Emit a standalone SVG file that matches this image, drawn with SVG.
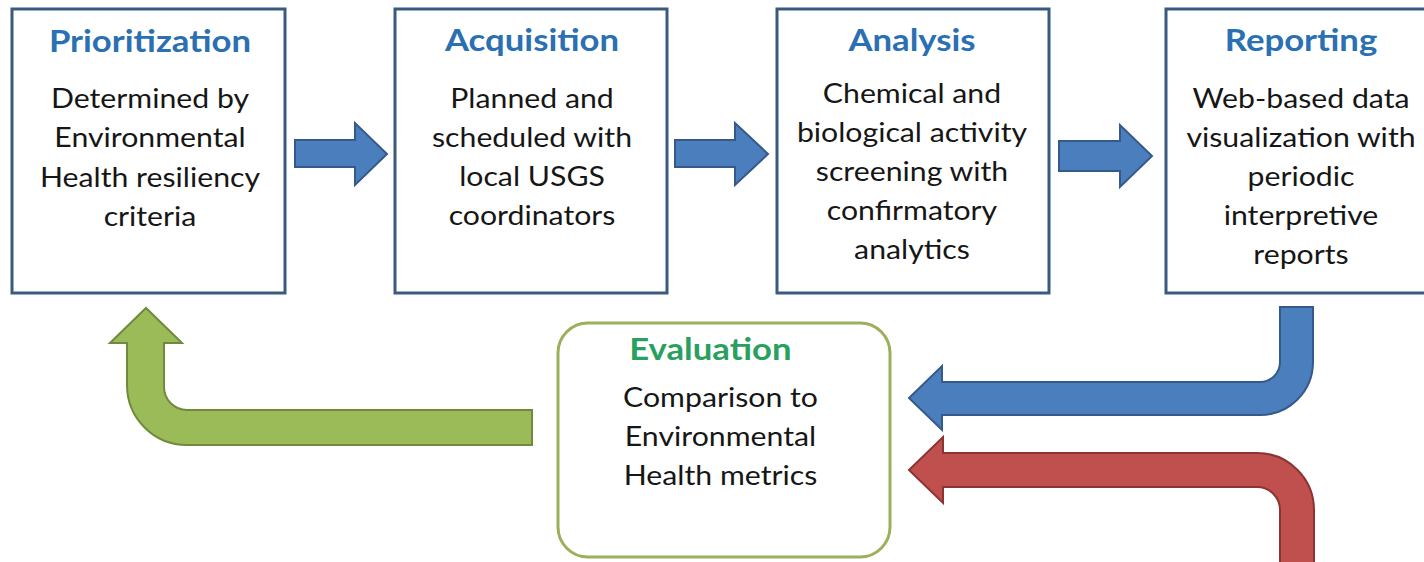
<svg xmlns="http://www.w3.org/2000/svg" width="1424" height="562" viewBox="0 0 1424 562">
  <style>
    .box { fill: #ffffff; stroke: #3b5a80; stroke-width: 3; }
    .evalbox { fill: #ffffff; stroke: #9bb05a; stroke-width: 3; }
    .title { font-family: Lato, "Liberation Sans", sans-serif; font-weight: bold; font-size: 31px; fill: #2a70b2; text-anchor: middle; }
    .etitle { font-family: Lato, "Liberation Sans", sans-serif; font-weight: bold; font-size: 31px; fill: #2aa060; text-anchor: middle; }
    .body { font-family: Lato, "Liberation Sans", sans-serif; font-size: 27px; fill: #161616; text-anchor: middle; }
    .blue { fill: #4a7ebd; stroke: #35598a; stroke-width: 2; stroke-linejoin: miter; }
    .green { fill: #9bbb59; stroke: #6f8a3c; stroke-width: 2; }
    .red { fill: #c0504d; stroke: #8a3533; stroke-width: 2; }
  </style>
  <rect width="1424" height="562" fill="#ffffff"/>

  <!-- flow connectors -->
  <g id="connectors">
    <path class="blue" d="M295,140 L355,140 L355,123 L387,154 L355,185 L355,167 L295,167 Z"/>
    <path class="blue" d="M675,140 L735,140 L735,123 L768,154 L735,185 L735,167 L675,167 Z"/>
    <path class="blue" d="M1059,141 L1120,141 L1120,125 L1152,156 L1120,187 L1120,171 L1059,171 Z"/>
    <!-- Reporting back to Evaluation -->
    <path class="blue" d="M1280,307 L1313,307 L1313,362 A53,53 0 0 1 1260,415 L942,415 L942,430 L909,398 L942,366 L942,382 L1260,382 A20,20 0 0 0 1280,362 Z"/>
    <!-- incoming from below -->
    <path class="red" d="M1280,566 L1280,510 A23,23 0 0 0 1257,487 L943,487 L943,503 L909,470 L943,437 L943,453 L1257,453 A57,57 0 0 1 1314,510 L1314,566 Z"/>
    <!-- Evaluation back to Prioritization -->
    <path class="green" d="M532,410 L187,410 A23,23 0 0 1 164,387 L164,343 L182,343 L146,308 L110,343 L127,343 L127,385 A60,60 0 0 0 187,445 L532,445 Z"/>
  </g>

  <g id="prioritization">
    <rect class="box" x="12" y="9" width="273" height="284"/>
    <g transform="translate(150 0) scale(1.12 1)">
      <text class="title" x="0" y="52">Prioritization</text>
      <text class="body" x="0" y="108">Determined by</text>
      <text class="body" x="0" y="147">Environmental</text>
      <text class="body" x="0" y="187">Health resiliency</text>
      <text class="body" x="0" y="226">criteria</text>
    </g>
  </g>

  <g id="acquisition">
    <rect class="box" x="395" y="9" width="272" height="284"/>
    <g transform="translate(532 0) scale(1.12 1)">
      <text class="title" x="0" y="51">Acquisition</text>
      <text class="body" x="0" y="108">Planned and</text>
      <text class="body" x="0" y="147">scheduled with</text>
      <text class="body" x="0" y="186">local USGS</text>
      <text class="body" x="0" y="225">coordinators</text>
    </g>
  </g>

  <g id="analysis">
    <rect class="box" x="777" y="9" width="272" height="284"/>
    <g transform="translate(912 0) scale(1.12 1)">
      <text class="title" x="0" y="51">Analysis</text>
      <text class="body" x="0" y="103">Chemical and</text>
      <text class="body" x="0" y="142">biological activity</text>
      <text class="body" x="0" y="181">screening with</text>
      <text class="body" x="0" y="220">confirmatory</text>
      <text class="body" x="0" y="259">analytics</text>
    </g>
  </g>

  <g id="reporting">
    <rect class="box" x="1166" y="9" width="272" height="284"/>
    <g transform="translate(1301 0) scale(1.12 1)">
      <text class="title" x="0" y="51">Reporting</text>
      <text class="body" x="0" y="108">Web-based data</text>
      <text class="body" x="0" y="147">visualization with</text>
      <text class="body" x="0" y="186">periodic</text>
      <text class="body" x="0" y="225">interpretive</text>
      <text class="body" x="0" y="264">reports</text>
    </g>
  </g>

  <g id="evaluation">
    <rect class="evalbox" x="558" y="323" width="332" height="234" rx="30" ry="30"/>
    <g transform="translate(716 0) scale(1.12 1)">
      <text class="etitle" x="-5" y="360">Evaluation</text>
      <text class="body" x="4" y="407">Comparison to</text>
      <text class="body" x="4" y="446">Environmental</text>
      <text class="body" x="4" y="485">Health metrics</text>
    </g>
  </g>
</svg>
